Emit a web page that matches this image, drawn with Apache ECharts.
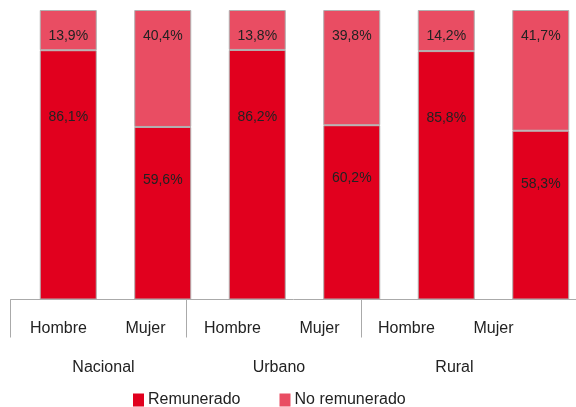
<!DOCTYPE html>
<html>
<head>
<meta charset="utf-8">
<script src="https://cdn.jsdelivr.net/npm/echarts@6/dist/echarts.min.js"></script>
<style>
  html, body { margin: 0; padding: 0; background: #fff; }
  #chart { width: 576px; height: 407px; }
</style>
</head>
<body>
<div id="chart"></div>
<script>
const sexos = ['Hombre', 'Mujer', 'Hombre', 'Mujer', 'Hombre', 'Mujer']
const zonas = ['Nacional', 'Urbano', 'Rural', '']
const remunerado = [86.1, 59.6, 86.2, 60.2, 85.8, 58.3]
const noRemunerado = [13.9, 40.4, 13.8, 39.8, 14.2, 41.7]

const font = 'Liberation Sans, Arial, sans-serif'
const fmt = (p) => p.value.toFixed(1).replace('.', ',') + '%'

const myChart = echarts.init(document.getElementById('chart'))

// 3 grids: bars, sexo labels, zona labels with separators
const option = {
  animation: false,
  textStyle: { fontFamily: font },
  grid: [
    { left: 21, width: 567, top: 10, bottom: 107.5, outerBoundsMode: 'none' },
    { left: 15, width: 522, top: 10, bottom: 107.5, outerBoundsMode: 'none' },
    { left: 10.7, width: 702, top: 10, bottom: 107.5, outerBoundsMode: 'none' }
  ],
  xAxis: [
    {
      gridIndex: 0, type: 'category', data: sexos,
      axisLine: { show: false }, axisTick: { show: false }, axisLabel: { show: false }
    },
    {
      gridIndex: 1, type: 'category', data: sexos,
      axisLine: { show: false }, axisTick: { show: false },
      axisLabel: { margin: 21, fontSize: 16, color: '#222', fontFamily: font }
    },
    {
      gridIndex: 2, type: 'category', data: zonas,
      axisLine: { show: true, lineStyle: { color: '#aaa', width: 1 } },
      axisTick: { show: true, length: 38, lineStyle: { color: '#aaa' }, interval: (i) => i < 3 },
      axisLabel: { margin: 60, fontSize: 16, color: '#222', fontFamily: font, padding: [0, 0, 0, 10] }
    }
  ],
  yAxis: [
    { gridIndex: 0, type: 'value', min: 0, max: 100, show: false },
    { gridIndex: 1, type: 'value', min: 0, max: 100, show: false },
    { gridIndex: 2, type: 'value', min: 0, max: 100, show: false }
  ],
  legend: {
    left: 128, top: 387,
    icon: 'rect', itemWidth: 11, itemHeight: 13, itemGap: 39,
    itemStyle: { borderWidth: 0 },
    textStyle: { fontSize: 16, color: '#222', fontFamily: font, padding: [0, 0, 0, -1] },
    data: ['Remunerado', 'No remunerado']
  },
  series: [
    {
      name: 'Remunerado', type: 'bar', stack: 'total', barWidth: 57,
      // hombre labels sit a bit lower in the segment than mujer ones
      data: remunerado.map((v, i) => ({ value: v, label: { distance: i % 2 ? 46 : 60 } })),
      itemStyle: { color: '#e1001e', borderColor: '#b0b0b0', borderWidth: 1 },
      label: { show: true, position: 'insideTop', fontSize: 14, color: '#222', formatter: fmt }
    },
    {
      name: 'No remunerado', type: 'bar', stack: 'total', barWidth: 57,
      data: noRemunerado,
      itemStyle: { color: '#e94d63', borderColor: '#b0b0b0', borderWidth: 1 },
      label: { show: true, position: 'insideTop', distance: 19, fontSize: 14, color: '#222', formatter: fmt }
    }
  ]
}
option && myChart.setOption(option)
</script>
</body>
</html>
